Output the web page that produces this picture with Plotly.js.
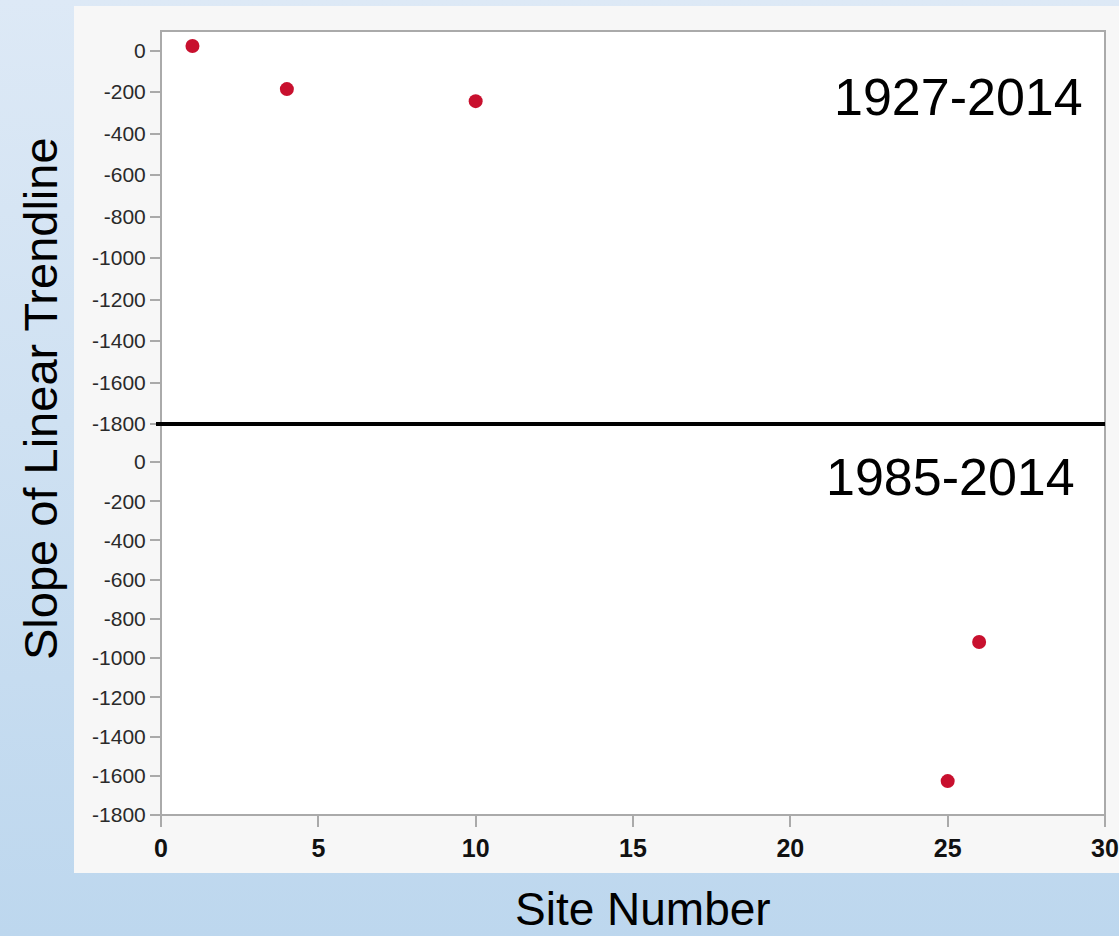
<!DOCTYPE html>
<html>
<head>
<meta charset="utf-8">
<script src="https://cdn.plot.ly/plotly-3.0.1.min.js"></script>
<style>
  html, body { margin:0; padding:0; width:1119px; height:936px; overflow:hidden;
    background: linear-gradient(to bottom, #dde9f6 0%, #cfe1f2 45%, #bdd7ee 100%); }
  #chart { width:1119px; height:936px; }
</style>
</head>
<body>
<div id="chart"></div>
<script>
// Period 1927-2014 (upper panel)
const sitesEarly = [1, 4, 10];
const slopesEarly = [22, -186, -244];
// Period 1985-2014 (lower panel)
const sitesLate = [25, 26];
const slopesLate = [-1627, -918];

const periodLabels = ["1927-2014", "1985-2014"];
const xTitle = "Site Number";
const yTitle = "Slope of Linear Trendline";
const yTickVals = [0, -200, -400, -600, -800, -1000, -1200, -1400, -1600, -1800];
const yTickText = ["0", "-200", "-400", "-600", "-800", "-1000", "-1200", "-1400", "-1600", "-1800"];
const xTickVals = [0, 5, 10, 15, 20, 25, 30];

const W = 1119, H = 936;
const L = 161, R = 14, T = 31, B = 121;
const pw = W - L - R, ph = H - T - B;
const px = v => (v - L) / pw;          // pixel x -> paper
const py = v => (H - B - v) / ph;      // pixel y -> paper
const split = py(424);

const markerStyle = {color: '#c8102e', size: 14};
const traces = [
  {x: sitesEarly, y: slopesEarly, type: 'scatter', mode: 'markers',
   marker: markerStyle, xaxis: 'x', yaxis: 'y2', hoverinfo: 'x+y'},
  {x: sitesLate, y: slopesLate, type: 'scatter', mode: 'markers',
   marker: markerStyle, xaxis: 'x', yaxis: 'y', hoverinfo: 'x+y'}
];

const tickFontY = {family: 'Liberation Sans, Arial, sans-serif', size: 21, color: '#2a2a2a'};
const yCommon = {
  tickmode: 'array', tickvals: yTickVals, ticktext: yTickText,
  showgrid: false, zeroline: false, showline: false,
  ticks: 'outside', ticklen: 10, tickwidth: 2, tickcolor: '#aaaaaa',
  tickfont: tickFontY, fixedrange: true
};

const layout = {
  width: W, height: H,
  margin: {l: L, r: R, t: T, b: B, pad: 0},
  paper_bgcolor: 'rgba(0,0,0,0)',
  plot_bgcolor: '#ffffff',
  showlegend: false,
  xaxis: {
    range: [0, 30], tickmode: 'array', tickvals: xTickVals, anchor: 'y',
    showgrid: false, zeroline: false, showline: false,
    ticks: 'outside', ticklen: 11, tickwidth: 2, tickcolor: '#aaaaaa',
    tickfont: {family: 'Liberation Sans, Arial, sans-serif', size: 25, color: '#111', weight: 700},
    fixedrange: true
  },
  yaxis: Object.assign({}, yCommon, {domain: [0, split], range: [-1800, 194], anchor: 'x'}),
  yaxis2: Object.assign({}, yCommon, {domain: [split, 1], range: [-1800, 94], anchor: 'x'}),
  shapes: [
    {type: 'rect', xref: 'paper', yref: 'paper', layer: 'below',
     x0: px(74), x1: px(1119), y0: py(873), y1: py(6),
     fillcolor: '#f7f7f7', line: {width: 0}},
    {type: 'rect', xref: 'paper', yref: 'paper', layer: 'below',
     x0: 0, x1: 1, y0: 0, y1: 1, fillcolor: '#ffffff', line: {width: 0}},
    {type: 'rect', xref: 'paper', yref: 'paper', layer: 'above',
     x0: 0, x1: 1, y0: 0, y1: 1, line: {color: '#aaaaaa', width: 2}},
    {type: 'line', xref: 'paper', yref: 'paper', layer: 'above',
     x0: px(156), x1: 1, y0: split, y1: split, line: {color: '#000000', width: 4}}
  ],
  annotations: [
    {text: periodLabels[0], xref: 'paper', yref: 'paper', x: px(1085), y: py(97),
     xanchor: 'right', yanchor: 'middle', showarrow: false,
     font: {family: 'Liberation Sans, Arial, sans-serif', size: 52, color: '#000'}},
    {text: periodLabels[1], xref: 'paper', yref: 'paper', x: px(1077), y: py(477),
     xanchor: 'right', yanchor: 'middle', showarrow: false,
     font: {family: 'Liberation Sans, Arial, sans-serif', size: 52, color: '#000'}},
    {text: xTitle, xref: 'paper', yref: 'paper', x: px(643), y: py(909),
     xanchor: 'center', yanchor: 'middle', showarrow: false,
     font: {family: 'Liberation Sans, Arial, sans-serif', size: 46, color: '#000'}},
    {text: yTitle, xref: 'paper', yref: 'paper', x: px(40), y: py(399),
     xanchor: 'center', yanchor: 'middle', textangle: -90, showarrow: false,
     font: {family: 'Liberation Sans, Arial, sans-serif', size: 47, color: '#000'}}
  ]
};

Plotly.newPlot('chart', traces, layout, {displayModeBar: false, staticPlot: true});
</script>
</body>
</html>
